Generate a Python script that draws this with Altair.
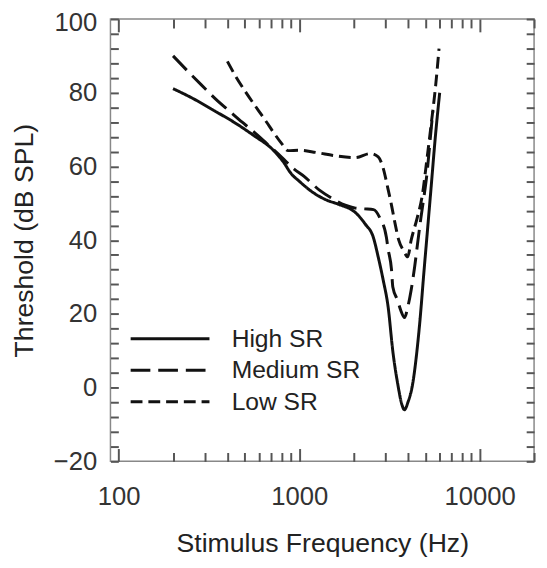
import altair as alt
import pandas as pd

# ---- data ----
series_names = ["High SR", "Medium SR", "Low SR"]

high_freq = [200, 252, 339, 435, 560, 719, 815, 904, 1000, 1188, 1400, 1660, 2047, 2318,
             2572, 2740, 2918, 3106, 3305, 3522, 3700, 3830, 4000, 4250, 4490, 4680, 4900,
             5100, 5350, 5700, 6000]
high_db = [81.1, 78.7, 75.1, 72.0, 68.4, 64.4, 61.3, 58.0, 56.0, 53.0, 51.0, 49.7, 47.5, 44.4,
           40.8, 35.4, 29.2, 22.0, 9.6, 0.7, -4.5, -6.0, -4.0, 1.0, 10.0, 19.0, 31.0,
           41.0, 53.0, 69.0, 80.0]

med_freq = [200, 252, 286, 353, 400, 483, 547, 661, 800, 924, 1064, 1300, 1500, 1800, 2050,
            2300, 2580, 2800, 3040, 3105, 3245, 3300, 3500, 3650, 3830, 4000, 4170, 4360,
            4550, 4720, 4900, 5100, 5354, 5500]
med_db = [90.0, 84.9, 82.2, 77.8, 75.5, 72.0, 69.8, 66.2, 62.5, 59.5, 57.3, 53.5, 51.5, 49.5, 48.7,
          48.5, 48.3, 46.0, 40.8, 37.7, 32.0, 27.3, 23.8, 21.0, 19.0, 22.0, 26.5, 32.8,
          40.0, 46.0, 51.5, 58.0, 69.0, 75.0]

low_freq = [400, 444, 500, 596, 660, 719, 800, 867, 1000, 1240, 1590, 2050, 2470, 2740, 2920,
            3100, 3230, 3380, 3560, 3800, 3990, 4170, 4500, 4800, 5100, 5400, 5700, 5950]
low_db = [88.5, 84.5, 80.5, 75.1, 72.0, 69.3, 66.2, 64.3, 64.4, 63.8, 62.9, 62.4, 63.5, 62.6, 59.5,
          54.0, 50.0, 45.0, 40.0, 37.0, 35.5, 40.0, 46.0, 52.0, 62.0, 72.0, 82.0, 92.0]

dash_patterns = [[1, 0], [20, 8], [12, 6]]

x_label_values = [100, 1000, 10000]
x_tick_values = [100, 200, 300, 400, 500, 600, 700, 800, 900,
                 1000, 2000, 3000, 4000, 5000, 6000, 7000, 8000, 9000,
                 10000, 20000]
y_label_values = [-20, 0, 20, 40, 60, 80, 100]
y_tick_values = list(range(-20, 101, 4))

rows = []
for name, fs, ds in zip(series_names, [high_freq, med_freq, low_freq], [high_db, med_db, low_db]):
    for f, d in zip(fs, ds):
        rows.append({"series": name, "freq": f, "db": d})
df = pd.DataFrame(rows)

# ---- styling ----
FONT = "Liberation Sans"
W, H = 430, 449
xscale = alt.Scale(type="log", domain=[90, 20000], nice=False)
yscale = alt.Scale(domain=[-20, 100], nice=False, zero=False)
major_test = "datum.value == 100 || datum.value == 1000 || datum.value == 10000"
x_tick_size = {"condition": {"test": major_test, "value": 13}, "value": 9}
y_label_offset = {"condition": {"test": "datum.value == 100", "value": 4}, "value": 0}

lines = alt.Chart(df).mark_line(color="#111", strokeWidth=3, interpolate="monotone").encode(
    x=alt.X("freq:Q", scale=xscale,
            axis=alt.Axis(orient="bottom", values=x_label_values, format="d", ticks=False,
                          domain=False, grid=False, labelFont=FONT, labelFontSize=26,
                          labelColor="#333", labelPadding=23,
                          title="Stimulus Frequency (Hz)", titleFont=FONT, titleFontSize=27,
                          titleFontWeight="normal", titleColor="#222", titlePadding=21)),
    y=alt.Y("db:Q", scale=yscale,
            axis=alt.Axis(orient="left", values=y_label_values, format="d", ticks=False,
                          domain=False, grid=False, labelFont=FONT, labelFontSize=26,
                          labelColor="#333", labelPadding=14, labelOffset=y_label_offset,
                          title="Threshold (dB SPL)", titleFont=FONT, titleFontSize=27,
                          titleFontWeight="normal", titleColor="#222", titlePadding=15)),
    strokeDash=alt.StrokeDash(
        "series:N",
        scale=alt.Scale(domain=series_names, range=dash_patterns),
        legend=alt.Legend(title=None, orient="none", legendX=48, legendY=312, padding=0,
                          symbolType="M-4,0H4", symbolSize=400, symbolStrokeWidth=3,
                          symbolStrokeColor="#111", labelFont=FONT, labelFontSize=25,
                          labelColor="#222", labelOffset=50, rowPadding=6),
    ),
)

# inward ticks on bottom & left edges
ticks_a = alt.Chart(df).mark_point(opacity=0).encode(
    x=alt.X("freq:Q", scale=xscale,
            axis=alt.Axis(orient="top", offset=-H, values=x_tick_values, labels=False,
                          domain=False, grid=False, title=None, tickColor="#555",
                          tickWidth=2, tickSize=x_tick_size)),
    y=alt.Y("db:Q", scale=yscale,
            axis=alt.Axis(orient="right", offset=-W, values=y_tick_values, labels=False,
                          domain=False, grid=False, title=None, tickColor="#555",
                          tickWidth=2, tickSize=8)),
)

# inward ticks on top & right edges
ticks_b = alt.Chart(df).mark_point(opacity=0).encode(
    x=alt.X("freq:Q", scale=xscale,
            axis=alt.Axis(orient="bottom", offset=-H, values=x_tick_values, labels=False,
                          domain=False, grid=False, title=None, tickColor="#555",
                          tickWidth=2, tickSize=x_tick_size)),
    y=alt.Y("db:Q", scale=yscale,
            axis=alt.Axis(orient="left", offset=-W, values=y_tick_values, labels=False,
                          domain=False, grid=False, title=None, tickColor="#555",
                          tickWidth=2, tickSize=8)),
)

chart = alt.layer(ticks_a, ticks_b, lines).resolve_axis(
    x="independent", y="independent"
).properties(
    width=W, height=H,
    autosize=alt.AutoSizeParams(type="none"),
    padding={"left": 104, "top": 7, "right": 5, "bottom": 100},
).configure_view(stroke="#888", strokeWidth=1.5)

chart.save("out.html", embed_options={"renderer": "svg", "actions": False})
